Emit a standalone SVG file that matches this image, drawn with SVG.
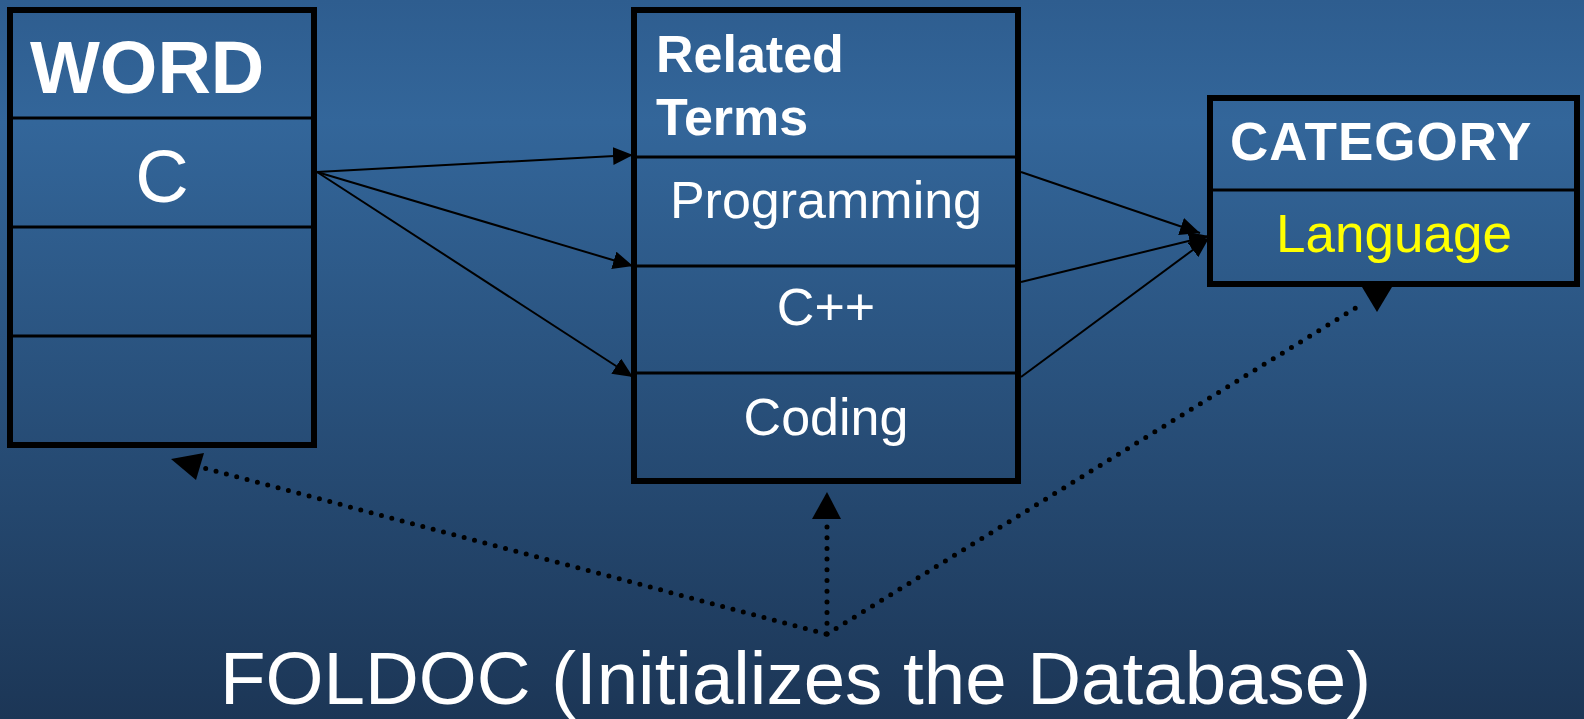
<svg xmlns="http://www.w3.org/2000/svg" width="1584" height="719" viewBox="0 0 1584 719">
<defs>
<linearGradient id="bg" x1="0" y1="0" x2="0" y2="1">
<stop offset="0" stop-color="#2e5d8f"/>
<stop offset="0.17" stop-color="#33669a"/>
<stop offset="1" stop-color="#1c3656"/>
</linearGradient>
<marker id="arr" markerUnits="userSpaceOnUse" markerWidth="22" markerHeight="20" refX="20" refY="9" orient="auto">
<path d="M0,0 L20,9 L0,18 z" fill="#000"/>
</marker>
<style>
.box{fill:none;stroke:#000;stroke-width:6}
.div{stroke:#000;stroke-width:3}
.hb{font-family:"Liberation Sans",Arial,sans-serif;font-weight:bold;fill:#fff}
.t{font-family:"Liberation Sans",Arial,sans-serif;fill:#fff}
.sl{stroke:#000;stroke-width:2;fill:none;marker-end:url(#arr)}
.dl{stroke:#000;stroke-width:5;fill:none;stroke-dasharray:0 10.7;stroke-linecap:round}
</style>
</defs>
<rect width="1584" height="719" fill="url(#bg)"/>
<g id="word">
<rect class="box" x="10" y="10" width="304" height="435"/>
<line class="div" x1="10" y1="118" x2="314" y2="118"/>
<line class="div" x1="10" y1="227" x2="314" y2="227"/>
<line class="div" x1="10" y1="336" x2="314" y2="336"/>
<text class="hb" x="30" y="93" font-size="74">WORD</text>
<text class="t" x="162" y="202" font-size="74" text-anchor="middle">C</text>
</g>
<g id="related">
<rect class="box" x="634" y="10" width="384" height="471"/>
<line class="div" x1="634" y1="157" x2="1018" y2="157"/>
<line class="div" x1="634" y1="266" x2="1018" y2="266"/>
<line class="div" x1="634" y1="373" x2="1018" y2="373"/>
<text class="hb" x="656" y="72" font-size="52">Related</text>
<text class="hb" x="656" y="135" font-size="52">Terms</text>
<text class="t" x="826" y="218" font-size="52" text-anchor="middle">Programming</text>
<text class="t" x="826" y="325" font-size="52" text-anchor="middle">C++</text>
<text class="t" x="826" y="435" font-size="52" text-anchor="middle">Coding</text>
</g>
<g id="category">
<rect class="box" x="1210" y="98" width="367" height="186"/>
<line class="div" x1="1210" y1="190" x2="1577" y2="190"/>
<text class="hb" x="1230" y="160" font-size="53" letter-spacing="1">CATEGORY</text>
<text class="t" x="1394" y="252" font-size="53" text-anchor="middle" style="fill:#ffff00">Language</text>
</g>
<g id="footer">
<text class="t" x="220" y="704" font-size="74.5">FOLDOC (Initializes the Database)</text>
</g>
<g id="connectors">
<line class="sl" x1="317" y1="172" x2="633" y2="155"/>
<line class="sl" x1="317" y1="172" x2="633" y2="266"/>
<line class="sl" x1="317" y1="172" x2="633" y2="377"/>
<line class="sl" x1="1021" y1="172" x2="1200" y2="233"/>
<line class="sl" x1="1021" y1="282" x2="1209" y2="236"/>
<line class="sl" x1="1021" y1="377" x2="1209" y2="238"/>
<line class="dl" x1="826" y1="634" x2="200" y2="467"/>
<path d="M171,459 L204,453 L196,480 z" fill="#000"/>
<line class="dl" x1="827" y1="634" x2="827" y2="522"/>
<path d="M827,492 L841,519 L812,519 z" fill="#000"/>
<line class="dl" x1="827" y1="634" x2="1362" y2="304"/>
<path d="M1362,287 L1392,287 L1377,312 z" fill="#000"/>
</g>
</svg>
